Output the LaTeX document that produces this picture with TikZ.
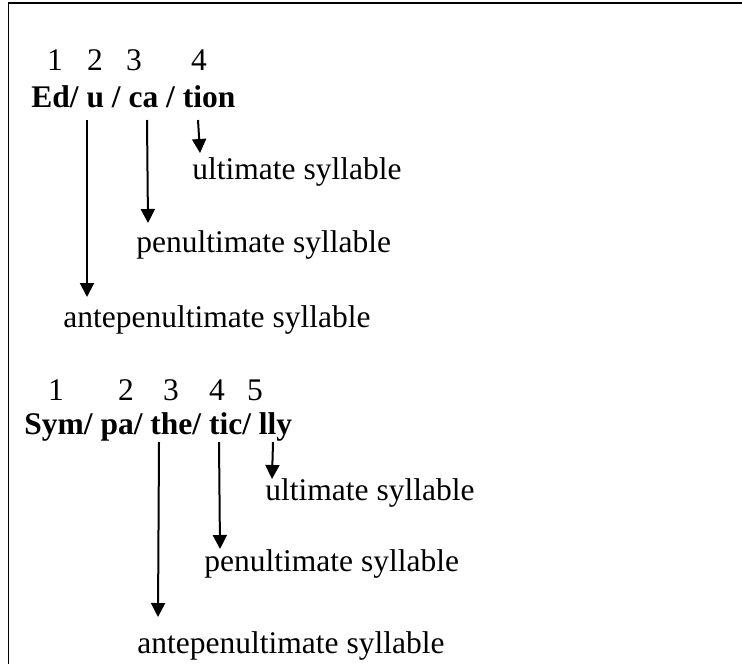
\documentclass[tikz,border=0pt]{standalone}
\usepackage{fontspec}
\setmainfont{Liberation Serif}
\usetikzlibrary{arrows.meta}

\begin{document}
\begin{tikzpicture}[x=0.5pt,y=-0.5pt,
        num/.style={anchor=base,inner sep=0pt,font=\fontsize{15.75}{18}\selectfont},
        word/.style={anchor=base west,inner sep=0pt,font=\fontsize{15.75}{18}\selectfont\bfseries},
        sylname/.style={anchor=base west,inner sep=0pt,font=\fontsize{15.75}{18}\selectfont},
        pointer/.style={-{Triangle[width=7pt,length=7pt]},line width=1pt}]
        \useasboundingbox (0,0) rectangle (742,664);
        \draw[line width=0.7pt] (8.5,664) -- (8.5,3) -- (742,3);

        % Education
        \foreach \n/\x in {1/55,2/95,3/134,4/199}{
            \node[num] (ed\n) at (\x,70) {\n};
        }
        \node[word] (educ) at (31,107) {Ed/ u / ca / tion};
        \coordinate (ua) at (87,120);   \coordinate (ub) at (87,297);
        \coordinate (caa) at (147,120); \coordinate (cab) at (148,223);
        \coordinate (tia) at (198,120); \coordinate (tib) at (200,153);
        \node[sylname] (edult) at (192,179) {ultimate syllable};
        \node[sylname] (edpen) at (136,252) {penultimate syllable};
        \node[sylname] (edante) at (63,327) {antepenultimate syllable};
        \draw[pointer] (ua)--(ub);
        \draw[pointer] (caa)--(cab);
        \draw[pointer] (tia)--(tib);

        % Sympathetically
        \foreach \n/\x in {1/56,2/126,3/171,4/217,5/255}{
            \node[num] (sy\n) at (\x,400) {\n};
        }
        \node[word] (symp) at (24,434) {Sym/ pa/ the/ tic/ lly};
        \coordinate (thea) at (159,442); \coordinate (theb) at (158,617);
        \coordinate (tica) at (219,442); \coordinate (ticb) at (220,549);
        \coordinate (llya) at (273,442); \coordinate (llyb) at (272,479);
        \node[sylname] (syult) at (265,500) {ultimate syllable};
        \node[sylname] (sypen) at (204,571) {penultimate syllable};
        \node[sylname] (syante) at (137,653) {antepenultimate syllable};
        \draw[pointer] (thea)--(theb);
        \draw[pointer] (tica)--(ticb);
        \draw[pointer] (llya)--(llyb);
\end{tikzpicture}
\end{document}
